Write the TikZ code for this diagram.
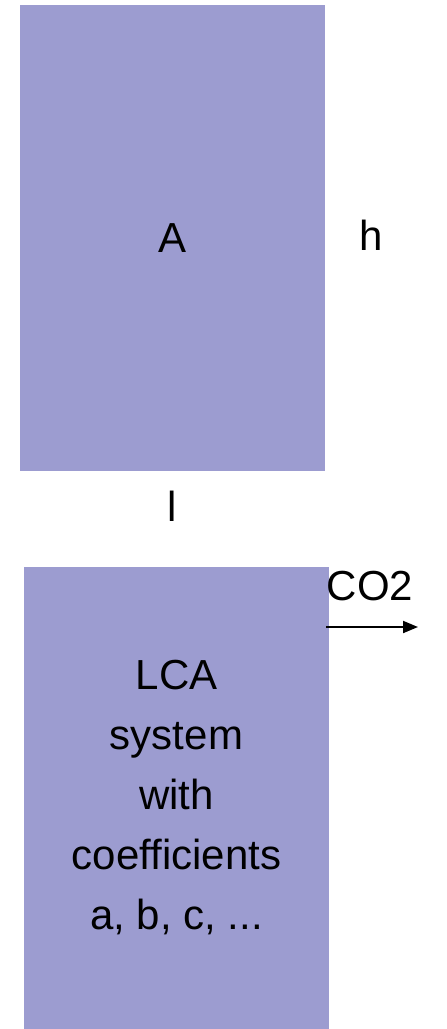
\documentclass[tikz,border=0pt]{standalone}
\usepackage{fontspec}
\setmainfont{Liberation Sans}
\usepackage{tikz}
\usetikzlibrary{positioning,arrows.meta}
\definecolor{lilac}{RGB}{156,156,208}

\begin{document}
\begin{tikzpicture}[x=1pt, y=-1pt, >={Triangle[length=15pt,width=12pt]},
	every node/.style={font=\fontsize{42}{60}\selectfont},
	panel/.style={fill=lilac, inner sep=0pt, align=center}]
	\useasboundingbox (0,0) rectangle (447,1029);
	% the area and its sides
	\node[panel, minimum width=305pt, minimum height=466pt] (area) at (172.5,238) {A};
	\node[anchor=base] (height) at (371,250) {h};
	\node[anchor=base] (length) at (172,521) {l};
	% the system that emits
	\node[panel, minimum width=305pt, minimum height=462pt] (lca) at (176.5,798)
		{LCA\\system\\with\\coefficients\\a, b, c, ...};
	\coordinate (emit) at (326,627);
	\coordinate (sink) at (418,627);
	\draw[->, line width=2pt] (emit) -- (sink);
	\node[anchor=base] (co2) at (370,600) {CO2};
\end{tikzpicture}
\end{document}
